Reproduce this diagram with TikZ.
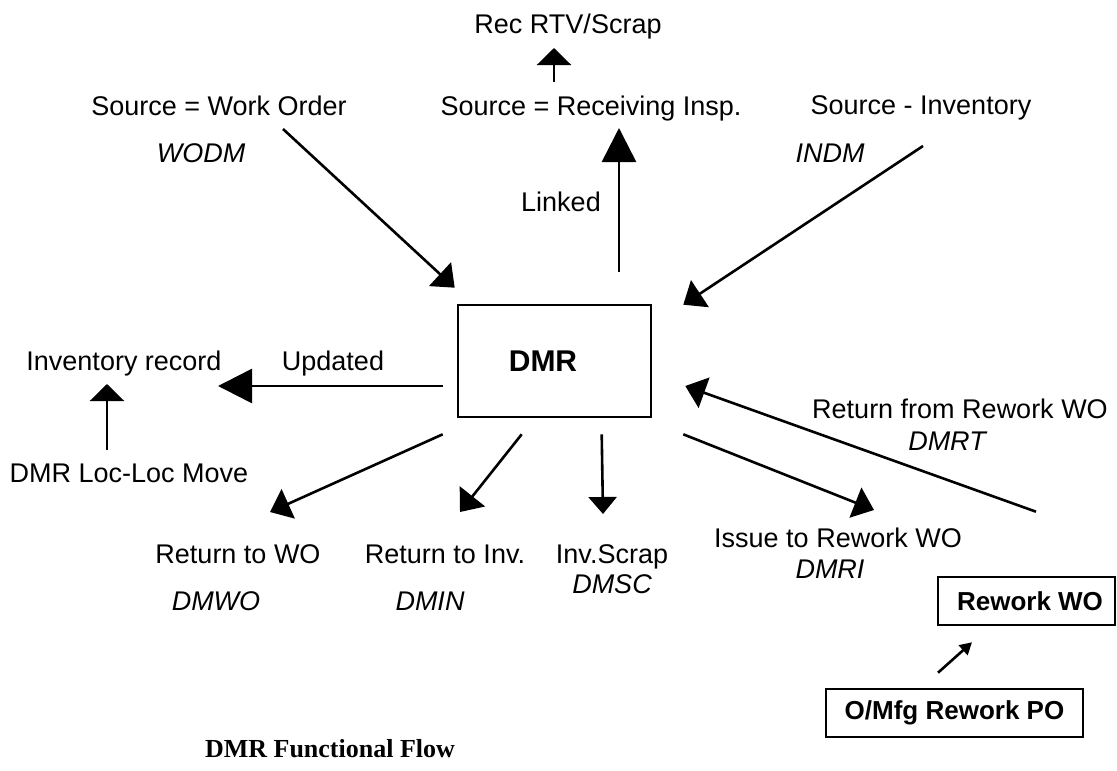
\documentclass[tikz,border=0pt]{standalone}
\usepackage{fontspec}
\setmainfont{Liberation Sans}
\newfontfamily\captionfont{Liberation Serif}
\usetikzlibrary{arrows.meta,calc}
\begin{document}
\begin{tikzpicture}[x=1pt,y=-1pt,
  lbl/.style={anchor=base,inner sep=0pt,font=\fontsize{27}{32}\selectfont},
  code/.style={anchor=base,inner sep=0pt,font=\fontsize{27}{32}\selectfont\itshape},
  boxnode/.style={draw,line width=2.6pt,inner sep=0pt,font=\fontsize{26}{30}\selectfont\bfseries},
  conn/.style={line width=2.6pt},
  bighead/.style={conn,-{Triangle[length=34pt,width=34pt]}},
  flathead/.style={conn,-{Triangle[length=17pt,width=34pt]}},
  diaghead/.style={conn,-{Triangle[length=20pt,width=32pt]}},
  smallhead/.style={conn,-{Triangle[length=12pt,width=13pt]}}
]
\useasboundingbox (0,0) rectangle (1117,771);

% boxes
\node[boxnode,minimum width=193pt,minimum height=112pt,font=\fontsize{30}{34}\selectfont\bfseries] (dmr) at (554.5,361) {\hspace*{-23pt}DMR};
\node[boxnode,minimum width=177pt,minimum height=48pt] (rwb) at (1026.5,601) {\hspace*{7pt}Rework WO};
\node[boxnode,minimum width=257pt,minimum height=48pt] (omfg) at (954.5,713) {O/Mfg Rework PO};

% labels
\node[lbl] (rec) at (568,33) {Rec RTV/Scrap};
\node[lbl] (sri) at (591,115) {Source = Receiving Insp.};
\node[lbl] (swo) at (219,115) {Source = Work Order};
\node[lbl] (sinv) at (921,114) {Source - Inventory};
\node[code] (wodm) at (201,162) {WODM};
\node[code] (indm) at (830,162) {INDM};
\node[lbl] (linked) at (561,211) {Linked};
\node[lbl] (invrec) at (124,370) {Inventory record};
\node[lbl] (upd) at (333,370) {Updated};
\node[lbl] (loc) at (129,482) {DMR Loc-Loc Move};
\node[lbl] (rwo) at (238,563) {Return to WO};
\node[code] (dmwo) at (216,610) {DMWO};
\node[lbl] (rinv) at (445,563) {Return to Inv.};
\node[code] (dmin) at (430,610) {DMIN};
\node[lbl] (iscr) at (612,563) {Inv.Scrap};
\node[code] (dmsc) at (612,593) {DMSC};
\node[lbl] (iss) at (838,547) {Issue to Rework WO};
\node[code] (dmri) at (830,578) {DMRI};
\node[lbl] (rfr) at (960,418) {Return from Rework WO};
\node[code] (dmrt) at (947,450) {DMRT};
\node[anchor=base,inner sep=0pt,font=\captionfont\fontsize{26}{30}\selectfont\bfseries] (title) at (330,757) {DMR Functional Flow};

% connectors
\draw[flathead] ($(sri.base)+(-37,-33)$) -- ($(rec.base)+(-14,15)$);
\draw[bighead] ($(dmr.north)+(64.5,-32)$) -- ($(sri.base)+(28,13)$);
\draw[diaghead] ($(swo.base)+(64,14)$) -- ($(dmr.north west)+(-2,-16)$);
\draw[diaghead] ($(sinv.base)+(2,32)$) -- ($(dmr.north east)+(31,1)$);
\draw[bighead] ($(dmr.west)+(-14,25)$) -- ($(invrec.base)+(94,16)$);
\draw[flathead] ($(loc.base)+(-22,-32)$) -- ($(invrec.base)+(-17,14)$);
\draw[diaghead] ($(dmr.south west)+(-14,16)$) -- ($(rwo.base)+(32,-51)$);
\draw[diaghead] ($(dmr.south west)+(65,16)$) -- ($(rinv.base)+(15,-51)$);
\draw[conn,-{Triangle[length=17pt,width=28pt]}] ($(dmr.south west)+(145,16)$) -- ($(iscr.base)+(-9,-49)$);
\draw[diaghead] ($(dmr.south east)+(31,16)$) -- ($(iss.base)+(36,-37)$);
\draw[diaghead] ($(rwb.north)+(9.5,-64)$) -- ($(dmr.east)+(33,25)$);
\draw[smallhead] ($(omfg.north)+(-16.5,-15)$) -- ($(rwb.south)+(-54.5,16)$);
\end{tikzpicture}
\end{document}
